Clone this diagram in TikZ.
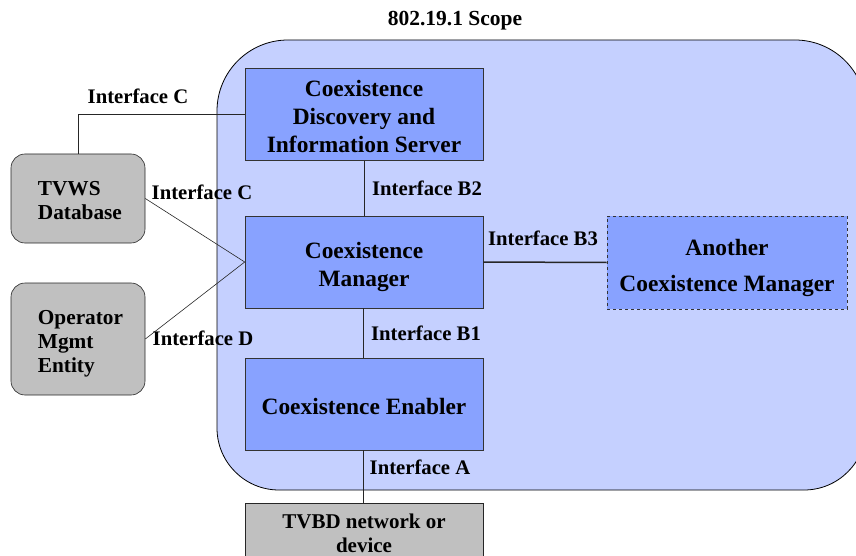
\documentclass[tikz,border=0pt]{standalone}
\usepackage{fontspec}
\setmainfont{Liberation Serif}
\begin{document}
\begin{tikzpicture}[x=1pt,y=-1pt,
  font=\bfseries,
  scopearea/.style={draw=black, line width=0.8pt, fill=scopeblue},
  funcbox/.style={draw=black!80, line width=0.6pt, fill=boxblue, minimum width=238pt,
    minimum height=92pt, inner sep=0pt},
  functext/.style={align=center, inner sep=0pt, font=\bfseries\fontsize{23.4}{28}\selectfont},
  extbox/.style={draw=black!85, line width=0.6pt, fill=extgray, rounded corners=14pt,
    minimum width=134pt, inner sep=0pt},
  exttext/.style={align=left, inner sep=0pt, anchor=west,
    font=\bfseries\fontsize{21.3}{24}\selectfont},
  iflabel/.style={font=\bfseries\fontsize{20.7}{22}\selectfont, inner sep=0pt},
  link/.style={draw=black!85, line width=0.6pt}
]
\definecolor{scopeblue}{RGB}{197,208,255}
\definecolor{boxblue}{RGB}{136,162,255}
\definecolor{extgray}{RGB}{192,192,192}
\useasboundingbox (0,0) rectangle (856,556);
\clip (0,0) rectangle (856,556);

% scope region (runs past the right edge)
\draw[scopearea] (217,300) [rounded corners=71pt] -- (217,40) -- (866,40) -- (866,300)
  [rounded corners=62pt] -- (866,490) -- (217,490) -- cycle;
\node[iflabel, font=\bfseries\fontsize{21.5}{22}\selectfont] (title) at (455,21) {802.19.1 Scope};

% functional entities inside the scope
\node[funcbox] (cdis) at (364,114.5) {};
\node[functext] (cdistext) at ([yshift=-2pt]cdis.center) {Coexistence\\Discovery and\\Information Server};
\node[funcbox] (cm) at (364,262) {};
\node[functext] (cmtext) at ([yshift=-4.5pt]cm.center) {Coexistence\\Manager};
\node[funcbox] (ce) at (364,404) {};
\node[functext] (cetext) at ([yshift=-2pt]ce.center) {Coexistence Enabler};
\node[funcbox, dashed, minimum width=240pt, minimum height=93pt] (acm) at (727,262.5) {};
\node[functext, font=\bfseries\fontsize{23.4}{36}\selectfont] (acmtext)
  at ([yshift=-5pt]acm.center) {Another\\Coexistence Manager};

% external entities
\node[extbox, minimum height=89pt] (tvws) at (78,198.5) {};
\node[exttext] (tvwstext) at ([xshift=27pt, yshift=-2pt]tvws.west) {TVWS\\Database};
\node[extbox, minimum height=112pt] (op) at (78,339) {};
\node[exttext] (optext) at ([xshift=27pt, yshift=-5pt]op.west) {Operator\\Mgmt\\Entity};
\node[draw=black!85, line width=0.6pt, fill=extgray, minimum width=238pt, minimum height=55pt,
  inner sep=0pt] (tvbd) at (364,530.5) {};
\node[align=center, inner sep=0pt, font=\bfseries\fontsize{21}{24}\selectfont]
  (tvbdtext) at ([yshift=-3pt]tvbd.center) {TVBD network or\\device};

% interfaces
\draw[link] (cdis.west) -| (tvws.north);
\draw[link] (tvws.east) -- (cm.west);
\draw[link] (op.east) -- (cm.west);
\draw[link] (cdis.south) -- (cm.north);
\draw[link] ([xshift=-1pt]cm.south) -- ([xshift=-1pt]ce.north);
\draw[link, line width=1.5pt] (cm.east) -- (acm.west);
\draw[link] ([xshift=-1pt]ce.south) -- ([xshift=-1pt]tvbd.north);

% interface labels
\node[iflabel] (lc1) at (138,96) {Interface C};
\node[iflabel] (lc2) at (202,192) {Interface C};
\node[iflabel] (ld) at (203,338) {Interface D};
\node[iflabel] (lb2) at (427,188) {Interface B2};
\node[iflabel] (lb1) at (426,333) {Interface B1};
\node[iflabel] (lb3) at (543,238) {Interface B3};
\node[iflabel] (la) at (420,467) {Interface A};
\end{tikzpicture}
\end{document}
